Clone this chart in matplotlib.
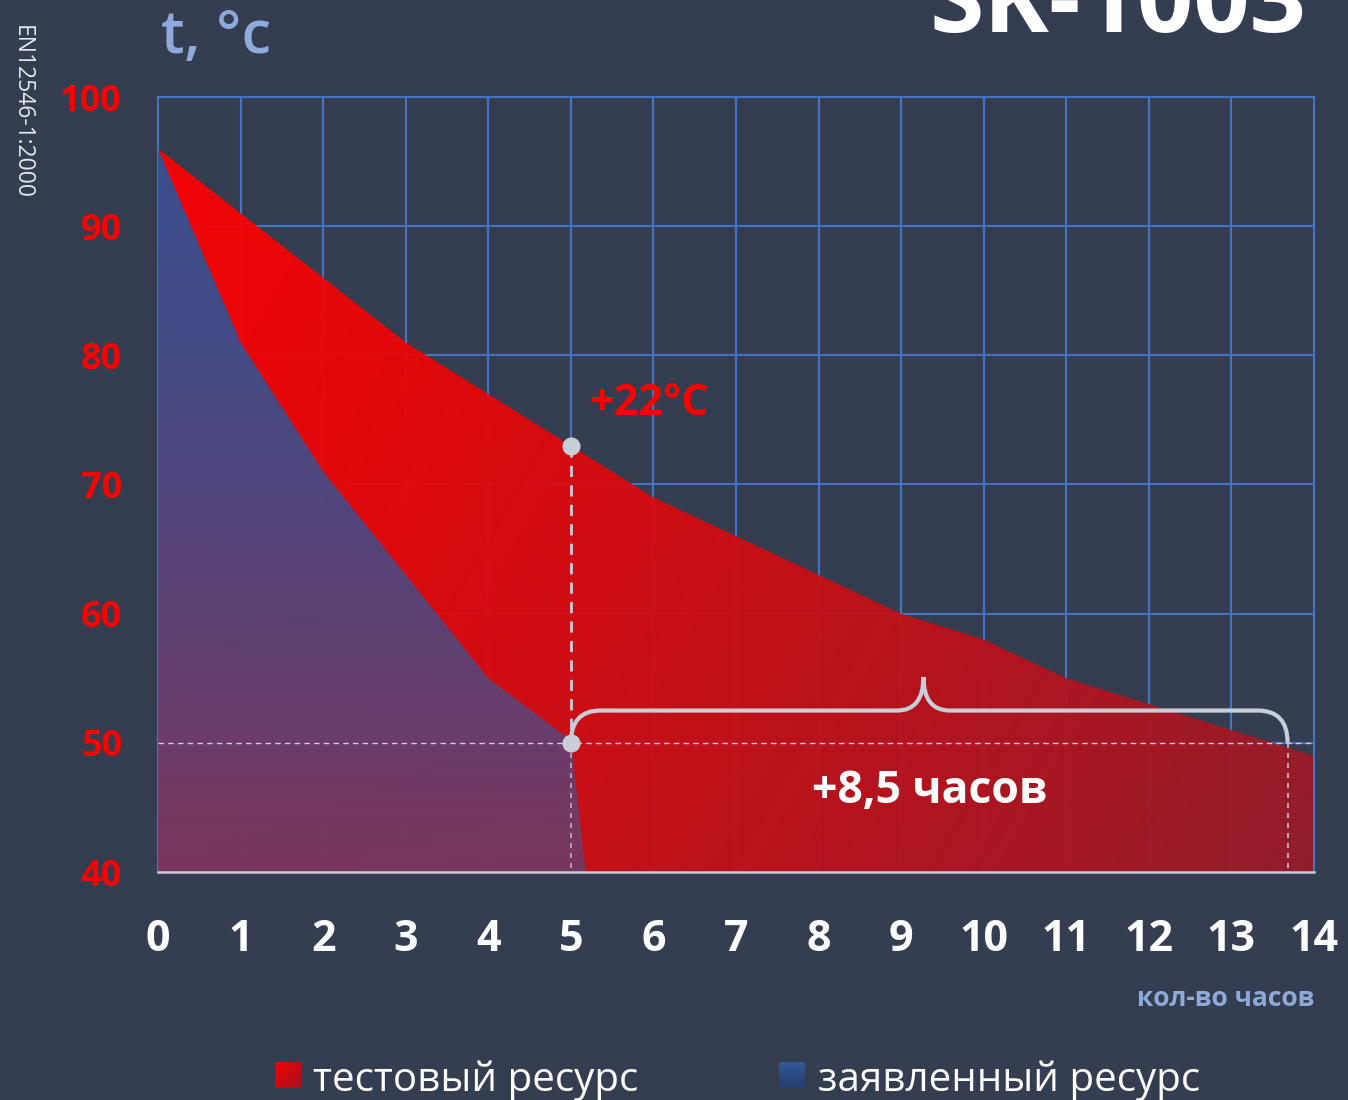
import numpy as np
import matplotlib.pyplot as plt
from matplotlib import font_manager
from matplotlib.patches import Polygon, PathPatch
from matplotlib.path import Path
from matplotlib.colors import to_rgb

# pick a family that really has a bold face installed
bold_family = 'DejaVu Sans'
for fam in ['Open Sans', 'Roboto', 'Lato', 'Noto Sans', 'Inter']:
    faces = [f for f in font_manager.fontManager.ttflist if f.name == fam]
    if any(str(f.weight) in ('bold', '700', 'heavy', '800') for f in faces):
        bold_family = fam
        break
plt.rcParams['font.family'] = [bold_family, 'DejaVu Sans']

# data
hours = [0, 1, 2, 3, 4, 5, 6, 7, 8, 9, 10, 11, 12, 13, 14]
test_temp = [96, 91, 86, 81, 77, 73, 69, 66, 63, 60, 58, 55, 53, 51, 49]
decl_hours = [0, 1, 2, 3, 4, 5, 5.18]
decl_temp = [96, 81, 71, 63, 55, 50.2, 40]
y_ticks = [40, 50, 60, 70, 80, 90, 100]

# annotation values
level = 50          # temperature threshold
cross_start = 5     # declared resource reaches threshold
cross_end = 13.68   # test resource reaches threshold
top_at_start = 73   # test resource temperature at cross_start

BG = '#343e50'
GRID = '#4472c4'
LIGHT = '#c8ced8'

fig = plt.figure(figsize=(13.48, 11), dpi=100, facecolor=BG)
ax = fig.add_axes([158 / 1348, 1 - 872 / 1100, 1156 / 1348, 775 / 1100])
ax.set_facecolor(BG)
ax.set_xlim(0, 14)
ax.set_ylim(40, 100)


def gradient_area(ax, xs, ys, c0, c1, wx, wy, power, zorder):
    verts = [(xs[0], 40)] + list(zip(xs, ys)) + [(xs[-1], 40)]
    poly = Polygon(verts, closed=True, facecolor='none', edgecolor='none')
    ax.add_patch(poly)
    gx, gy = np.meshgrid(np.linspace(0, 1, 400), np.linspace(0, 1, 400))
    t = np.clip(wx * gx + wy * (1 - gy), 0, 1) ** power
    a, b = np.array(to_rgb(c0)), np.array(to_rgb(c1))
    img = a[None, None, :] * (1 - t[..., None]) + b[None, None, :] * t[..., None]
    im = ax.imshow(img, extent=(0, 14, 40, 100), origin='lower', aspect='auto',
                   alpha=0.94, zorder=zorder, interpolation='bilinear')
    im.set_clip_path(poly)


# red area: diagonal gradient, blue area: vertical gradient
gradient_area(ax, hours, test_temp, '#ff0000', '#981c2a', 0.72, 0.28, 1.25, 2)
gradient_area(ax, decl_hours, decl_temp, '#2d5699', '#763963', 0.0, 1.0, 1.5, 3)
ax.set_xlim(0, 14)
ax.set_ylim(40, 100)

# grid
for h in hours:
    ax.axvline(h, color=GRID, lw=1.5, zorder=1)
for v in y_ticks:
    ax.axhline(v, color=GRID, lw=1.5, zorder=1)
for s in ['left', 'top', 'right']:
    ax.spines[s].set_color(GRID)
    ax.spines[s].set_linewidth(1.5)
ax.spines['bottom'].set_color('#c6cad2')
ax.spines['bottom'].set_linewidth(1.8)
ax.spines['bottom'].set_zorder(5)

# ticks
ax.set_xticks(hours)
ax.set_xticklabels([str(h) for h in hours], fontsize=31, fontweight='bold', color='white')
ax.set_xticks(hours[::2], minor=True)
ax.tick_params(axis='x', which='major', length=0, pad=33)
ax.tick_params(axis='x', which='minor', length=11, width=1.8, color='#c6cad2', direction='out')
ax.set_yticks(y_ticks)
ax.set_yticklabels([str(v) for v in y_ticks], fontsize=26, fontweight='bold', color='#ff0000')
ax.tick_params(axis='y', length=0, pad=26)

# threshold lines
ax.plot([0, 14], [level, level], color='#d0c8e8', lw=1, dashes=(4, 3), zorder=6)
ax.plot([cross_start, cross_start], [top_at_start, level], color=LIGHT, lw=2, dashes=(4, 3), zorder=6)
ax.plot([cross_start, cross_start], [level, 40], color=LIGHT, lw=1.2, dashes=(3, 3), zorder=6, alpha=0.8)
ax.plot([cross_end, cross_end], [level, 40], color='#d8b8c4', lw=1.2, dashes=(3, 3), zorder=6)

# brace
yb, yp = 52.5, 55.1
mid = 9.27
rx, hw = 0.36, 0.32
verts = [(cross_start, level), (cross_start, yb), (cross_start + rx, yb),
         (mid - hw, yb), (mid, yb), (mid, yp),
         (mid, yb), (mid + hw, yb),
         (cross_end - rx, yb), (cross_end, yb), (cross_end, level)]
codes = [Path.MOVETO, Path.CURVE3, Path.CURVE3,
         Path.LINETO, Path.CURVE3, Path.CURVE3,
         Path.CURVE3, Path.CURVE3,
         Path.LINETO, Path.CURVE3, Path.CURVE3]
ax.add_patch(PathPatch(Path(verts, codes), facecolor='none', edgecolor=LIGHT, lw=3, zorder=7))

# dots
ax.scatter([cross_start, cross_start], [top_at_start, level], s=170, color=LIGHT, zorder=8, linewidths=0)

ax.text(5.95, 76.3, '+22°C', color='#ff0000', fontsize=31, fontweight='bold',
        ha='center', va='center', zorder=9)
ax.text(9.35, 46.2, '+8,5 часов', color='white', fontsize=32, fontweight='bold',
        ha='center', va='center', zorder=9)

# titles and side texts
fig.text(0.16, 0.952, 't, °c', color='#8eaadb', fontsize=43, fontweight='semibold', ha='center', va='baseline')
fig.text(1306 / 1348, 1 - 32 / 1100, 'SK-1003', color='white', fontsize=71, fontweight='bold',
         ha='right', va='baseline')
fig.text(22 / 1348, 1 - 25 / 1100, 'EN12546-1:2000', color='#e4e7ec', fontsize=16.5, rotation=270,
         ha='center', va='top')
fig.text(1314 / 1348, 1 - 1006 / 1100, 'кол-во часов', color='#8eaadb', fontsize=19, fontweight='bold',
         ha='right', va='baseline')

# legend
def legend_square(x0, c0, c1, wx, wy):
    sq = fig.add_axes([x0 / 1348, 1 - 1088 / 1100, 26 / 1348, 26 / 1100])
    gx, gy = np.meshgrid(np.linspace(0, 1, 50), np.linspace(0, 1, 50))
    t = np.clip(wx * gx + wy * (1 - gy), 0, 1)
    a, b = np.array(to_rgb(c0)), np.array(to_rgb(c1))
    img = a[None, None, :] * (1 - t[..., None]) + b[None, None, :] * t[..., None]
    sq.imshow(img, origin='lower', aspect='auto', extent=(0, 1, 0, 1))
    sq.axis('off')


legend_square(275, '#f00000', '#a8141e', 0.5, 0.5)
legend_square(779, '#30589a', '#27406e', 0.0, 1.0)
fig.text(313 / 1348, 1 - 1091 / 1100, 'тестовый ресурс', color='white', fontsize=29, ha='left', va='baseline')
fig.text(818 / 1348, 1 - 1091 / 1100, 'заявленный ресурс', color='white', fontsize=29, ha='left', va='baseline')

fig.savefig('out.png', dpi=100, facecolor=BG)
